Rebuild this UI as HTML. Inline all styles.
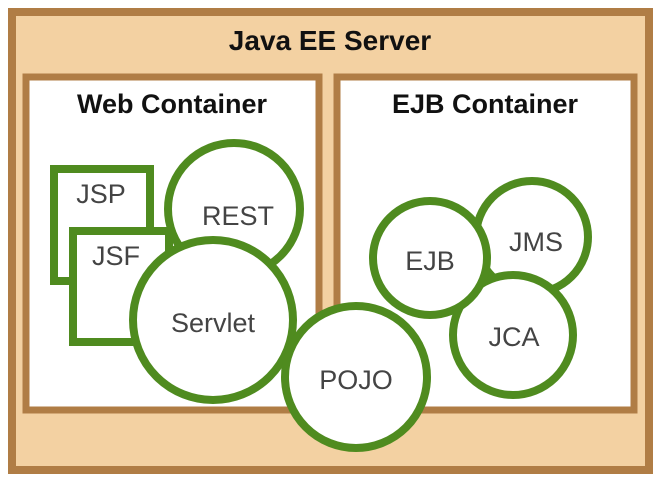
<!DOCTYPE html>
<html><head><style>body{margin:0;background:#fff}</style></head><body>
<svg width="660" height="481" viewBox="0 0 660 481" xmlns="http://www.w3.org/2000/svg" font-family="Liberation Sans, Arial, sans-serif">
<rect x="12" y="12" width="637" height="458" fill="#f3d1a2" stroke="#b07d45" stroke-width="8"/>
<text x="330" y="50" text-anchor="middle" font-size="28" font-weight="bold" fill="#111">Java EE Server</text>
<rect x="26" y="77" width="293" height="333" fill="#fff" stroke="#b07d45" stroke-width="7"/>
<rect x="337" y="77" width="297" height="333" fill="#fff" stroke="#b07d45" stroke-width="7"/>
<text x="172" y="113" text-anchor="middle" font-size="27" font-weight="bold" fill="#111">Web Container</text>
<text x="485" y="113" text-anchor="middle" font-size="27" font-weight="bold" fill="#111">EJB Container</text>
<g stroke="#4f8b1f" stroke-width="8" fill="#fff">
<rect x="54" y="169" width="96" height="112"/>
<rect x="73" y="231" width="96" height="111"/>
<circle cx="234" cy="209" r="66"/>
<circle cx="213" cy="320" r="80"/>
<circle cx="356" cy="377" r="71"/>
<circle cx="532" cy="237" r="56"/>
<circle cx="513" cy="335" r="60"/>
<circle cx="430" cy="258" r="57"/>
</g>
<g font-size="27" fill="#444" text-anchor="middle">
<text x="101" y="203">JSP</text>
<text x="116" y="265">JSF</text>
<text x="238" y="225">REST</text>
<text x="213" y="332">Servlet</text>
<text x="356" y="389">POJO</text>
<text x="430" y="270">EJB</text>
<text x="536" y="251">JMS</text>
<text x="514" y="346">JCA</text>
</g>
</svg>
</body></html>
